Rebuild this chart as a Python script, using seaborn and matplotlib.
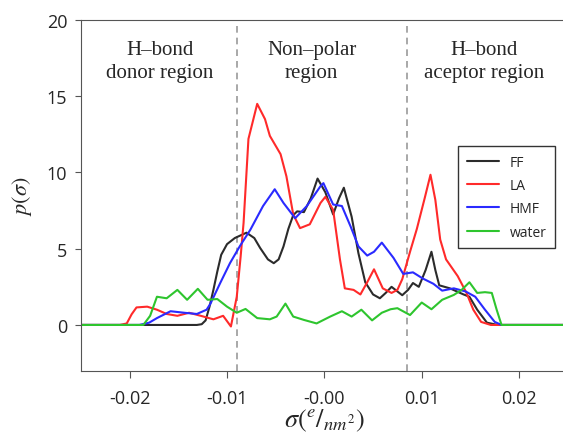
import numpy as np
import pandas as pd
import matplotlib
matplotlib.use('Agg')
import matplotlib.pyplot as plt
import seaborn as sns

# sigma profiles
ff_sigma = [-0.025, -0.0131, -0.0126, -0.0122, -0.0118, -0.0114, -0.0110, -0.0106, -0.0100, -0.0092,
            -0.0080, -0.0072, -0.0066, -0.0058, -0.0052, -0.0047, -0.0042, -0.0037, -0.0032, -0.0028,
            -0.0021, -0.0014, -0.0007, 0.0001, 0.0009, 0.0015, 0.0020, 0.0028, 0.0035, 0.0042,
            0.0050, 0.0057, 0.0063, 0.0069, 0.0075, 0.0080, 0.0086, 0.0091, 0.0097, 0.0104,
            0.0110, 0.0114, 0.0118, 0.0129, 0.0143, 0.0149, 0.0157, 0.0167, 0.0178, 0.025]
ff_p = [0, 0, 0.05, 0.3, 1.2, 2.3, 3.5, 4.6, 5.3, 5.7,
        6.05, 5.7, 5.05, 4.3, 4.05, 4.3, 5.15, 6.3, 7.2, 7.45,
        7.4, 8.3, 9.6, 8.7, 7.25, 8.3, 9.0, 7.1, 4.7, 2.8,
        2.0, 1.75, 2.1, 2.5, 2.2, 1.95, 2.3, 2.75, 2.5, 3.6,
        4.8, 3.6, 2.6, 2.4, 2.0, 1.85, 1.0, 0.15, 0, 0]

la_sigma = [-0.025, -0.0210, -0.0203, -0.0198, -0.0193, -0.0182, -0.0172, -0.0162, -0.0151, -0.0139,
            -0.0127, -0.0114, -0.0104, -0.0096, -0.0090, -0.0086, -0.0083, -0.0078, -0.0069, -0.0061,
            -0.0056, -0.0045, -0.0039, -0.0032, -0.0025, -0.0015, -0.0004, 0.0001, 0.0009, 0.0016,
            0.0021, 0.0030, 0.0037, 0.0044, 0.0051, 0.0060, 0.0069, 0.0075, 0.0080, 0.0088,
            0.0095, 0.0103, 0.0109, 0.0114, 0.0119, 0.0125, 0.0137, 0.0146, 0.0153, 0.0161,
            0.0171, 0.025]
la_p = [0, 0, 0.1, 0.7, 1.15, 1.2, 1.0, 0.72, 0.6, 0.8,
        0.6, 0.37, 0.6, -0.1, 1.85, 4.5, 6.7, 12.2, 14.5, 13.5,
        12.4, 11.2, 9.75, 7.25, 6.35, 6.6, 8.0, 8.4, 7.55, 4.3,
        2.4, 2.3, 2.0, 2.8, 3.65, 2.4, 2.1, 2.3, 3.0, 4.8,
        6.3, 8.3, 9.85, 8.2, 5.6, 4.3, 3.2, 2.1, 1.0, 0.2,
        0, 0]

hmf_sigma = [-0.025, -0.0190, -0.0180, -0.0172, -0.0158, -0.0144, -0.0131, -0.0121, -0.0117, -0.0107,
             -0.0097, -0.0087, -0.0076, -0.0063, -0.0051, -0.0042, -0.0030, -0.0018, -0.0004, -0.0001,
             0.0009, 0.0018, 0.0027, 0.0035, 0.0044, 0.0051, 0.0059, 0.0071, 0.0081, 0.0091,
             0.0101, 0.0112, 0.0121, 0.0133, 0.0145, 0.0155, 0.0165, 0.0175, 0.0182, 0.025]
hmf_p = [0, 0, 0.15, 0.45, 0.9, 0.8, 0.72, 1.0, 1.4, 2.75,
         4.05, 5.15, 6.25, 7.8, 8.9, 8.0, 7.0, 7.8, 9.1, 9.3,
         7.9, 7.8, 6.45, 5.15, 4.55, 4.8, 5.4, 4.4, 3.35, 3.45,
         3.05, 2.7, 2.25, 2.4, 2.2, 1.85, 1.0, 0.2, 0, 0]

water_sigma = [-0.025, -0.0186, -0.0179, -0.0172, -0.0162, -0.0151, -0.0141, -0.0130, -0.0120, -0.0110,
               -0.0100, -0.0090, -0.0081, -0.0069, -0.0056, -0.0049, -0.0040, -0.0032, -0.0021, -0.0008,
               0.0006, 0.0018, 0.0028, 0.0038, 0.0049, 0.0059, 0.0068, 0.0075, 0.0088, 0.0100,
               0.0110, 0.0121, 0.0133, 0.0141, 0.0149, 0.0157, 0.0165, 0.0172, 0.0177, 0.0182, 0.025]
water_p = [0, 0, 0.6, 1.85, 1.75, 2.3, 1.65, 2.37, 1.65, 1.7,
           1.2, 0.8, 1.05, 0.45, 0.37, 0.55, 1.4, 0.55, 0.33, 0.1,
           0.55, 0.9, 0.55, 1.0, 0.3, 0.8, 1.03, 1.1, 0.65, 1.47,
           1.03, 1.65, 1.97, 2.3, 2.8, 2.1, 2.15, 2.1, 1.0, 0, 0]

names = ['FF', 'LA', 'HMF', 'water']
colors = ['#2b2b2b', '#ff2a2a', '#2a2aff', '#2ec52e']
region_cuts = [-0.0090, 0.0085]
xticks = [-0.02, -0.01, 0.0, 0.01, 0.02]
xtick_labels = ['-0.02', '-0.01', '-0.00', '0.01', '0.02']

frames = []
for name, s, p in zip(names, [ff_sigma, la_sigma, hmf_sigma, water_sigma], [ff_p, la_p, hmf_p, water_p]):
    frames.append(pd.DataFrame({'sigma': s, 'p': p, 'compound': name}))
df = pd.concat(frames, ignore_index=True)

sns.set_style('ticks')
plt.rcParams['font.family'] = ['Open Sans', 'DejaVu Sans']
plt.rcParams['mathtext.fontset'] = 'stix'

fig = plt.figure(figsize=(5.63, 4.39), dpi=100)
ax = fig.add_axes([0.1439, 0.1533, 0.8645, 0.7989])

sns.lineplot(data=df, x='sigma', y='p', hue='compound', hue_order=names,
             palette=dict(zip(names, colors)), estimator=None, sort=False,
             linewidth=1.5, ax=ax)

for c in region_cuts:
    ax.axvline(c, color='#999999', linestyle=(0, (4, 3)), linewidth=1.2, zorder=0)

ax.set_xlim(-0.025, 0.025)
ax.set_ylim(-3, 20)
ax.set_xticks(xticks)
ax.set_xticklabels(xtick_labels)
ax.set_yticks([0, 5, 10, 15, 20])
ax.tick_params(axis='x', labelsize=13, length=5, pad=8, color='#555555')
ax.tick_params(axis='y', labelsize=13, length=4, pad=6, color='#555555')
for sp in ax.spines.values():
    sp.set_color('#555555')
ax.spines['right'].set_visible(False)

ax.set_xlabel(r'$\sigma(^{e}/_{nm^{2}})$', fontsize=19, labelpad=0)
ax.set_ylabel(r'$p(\sigma)$', fontsize=16, labelpad=9)

serif = ['Liberation Serif', 'DejaVu Serif']
ax.text(-0.0169, 17.3, 'H–bond\ndonor region', ha='center', va='center',
        fontsize=15, family=serif, linespacing=1.3)
ax.text(-0.0013, 17.3, 'Non–polar\nregion', ha='center', va='center',
        fontsize=15, family=serif, linespacing=1.3)
ax.text(0.0164, 17.3, 'H–bond\naceptor region', ha='center', va='center',
        fontsize=15, family=serif, linespacing=1.3)

ax.legend(title=None, loc='upper right', bbox_to_anchor=(0.974, 0.64), borderaxespad=0,
          fontsize=10, frameon=True, fancybox=False, edgecolor='#333333', framealpha=1,
          handlelength=2.3, handletextpad=0.8, labelspacing=0.6, borderpad=0.6)

fig.savefig('out.png', dpi=100)
